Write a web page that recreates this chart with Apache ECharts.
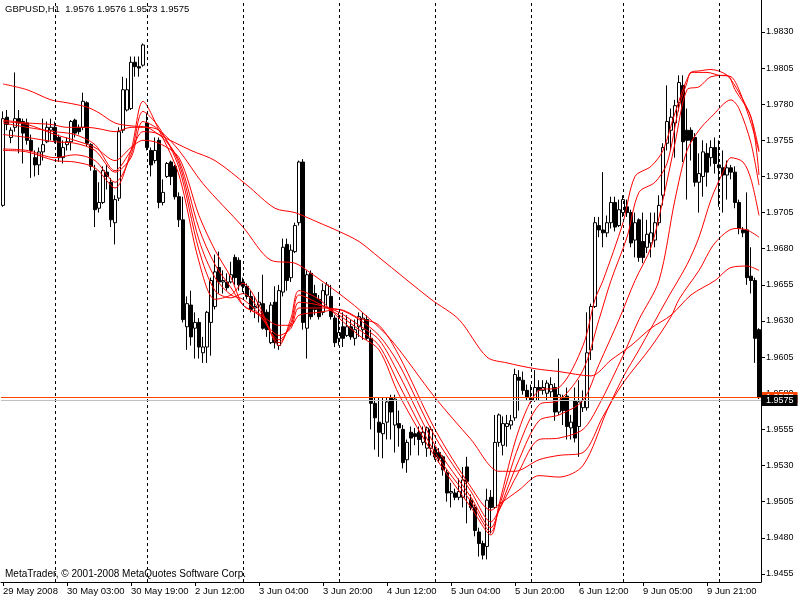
<!DOCTYPE html>
<html><head><meta charset="utf-8">
<script src="https://cdn.jsdelivr.net/npm/echarts@6.0.0/dist/echarts.min.js"></script>
<style>html,body{margin:0;padding:0;background:#fff}#c{width:800px;height:600px}</style>
</head><body><div id="c"></div>
<script>
// trading sessions (day, first hour, last hour) -> hourly categories
const sessions = [['29 May',11,23],['30 May',0,22],['2 Jun',0,23],['3 Jun',0,23],['4 Jun',0,23],['5 Jun',0,23],['6 Jun',0,22],['9 Jun',0,23],['10 Jun',0,10]];
const categories = [];
sessions.forEach(function(s){ for (let h = s[1]; h <= s[2]; h++) categories.push(s[0] + ' ' + String(h).padStart(2,'0') + ':00'); });
const firstLabel = '29 May 2008';

const opens = [1.9710,1.9771,1.9757,1.9764,1.9770,1.9768,1.9767,1.9755,1.9743,1.9738,
1.9747,1.9754,1.9762,1.9764,1.9757,1.9743,1.9752,1.9754,1.9769,1.9764,
1.9764,1.9781,1.9752,1.9734,1.9708,1.9712,1.9733,1.9726,1.9698,1.9715,
1.9762,1.9776,1.9777,1.9809,1.9806,1.9807,1.9767,1.9748,1.9741,1.9755,
1.9712,1.9730,1.9740,1.9737,1.9716,1.9700,1.9626,1.9641,1.9625,1.9629,
1.9608,1.9612,1.9629,1.9640,1.9667,1.9657,1.9657,1.9657,1.9674,1.9672,
1.9657,1.9654,1.9647,1.9639,1.9641,1.9642,1.9636,1.9615,1.9643,1.9613,
1.9650,1.9683,1.9660,1.9678,1.9698,1.9740,1.9625,1.9663,1.9649,1.9645,
1.9636,1.9648,1.9647,1.9632,1.9618,1.9626,1.9620,1.9626,1.9618,1.9626,
1.9624,1.9631,1.9618,1.9573,1.9560,1.9552,1.9560,1.9577,1.9558,1.9559,
1.9555,1.9534,1.9553,1.9552,1.9553,1.9546,1.9542,1.9542,1.9541,1.9539,
1.9536,1.9525,1.9511,1.9511,1.9508,1.9508,1.9529,1.9506,1.9501,1.9484,
1.9476,1.9474,1.9508,1.9501,1.9546,1.9544,1.9557,1.9558,1.9563,1.9591,
1.9589,1.9582,1.9577,1.9575,1.9584,1.9582,1.9580,1.9581,1.9584,1.9567,
1.9577,1.9578,1.9556,1.9575,1.9557,1.9570,1.9570,1.9610,1.9640,1.9696,
1.9693,1.9691,1.9698,1.9712,1.9696,1.9705,1.9709,1.9705,1.9686,1.9700,
1.9685,1.9681,1.9684,1.9686,1.9698,1.9717,1.9753,1.9762,1.9767,1.9781,
1.9793,1.9762,1.9762,1.9757,1.9726,1.9730,1.9746,1.9743,1.9750,1.9738,
1.9736,1.9731,1.9736,1.9733,1.9712,1.9693,1.9693,1.9661,1.9658,1.9624];
const closes = [1.9770,1.9766,1.9762,1.9770,1.9767,1.9760,1.9755,1.9748,1.9738,1.9747,
1.9752,1.9764,1.9764,1.9755,1.9743,1.9750,1.9754,1.9768,1.9760,1.9761,
1.9782,1.9753,1.9737,1.9707,1.9712,1.9734,1.9730,1.9700,1.9714,1.9761,
1.9790,1.9790,1.9809,1.9806,1.9805,1.9821,1.9750,1.9738,1.9748,1.9712,
1.9719,1.9739,1.9730,1.9716,1.9700,1.9631,1.9642,1.9619,1.9629,1.9612,
1.9612,1.9636,1.9658,1.9664,1.9657,1.9658,1.9653,1.9662,1.9660,1.9655,
1.9654,1.9647,1.9638,1.9640,1.9643,1.9625,1.9624,1.9641,1.9615,1.9651,
1.9681,1.9658,1.9679,1.9696,1.9740,1.9629,1.9662,1.9633,1.9638,1.9633,
1.9651,1.9655,1.9633,1.9615,1.9622,1.9618,1.9626,1.9619,1.9624,1.9633,
1.9632,1.9618,1.9573,1.9563,1.9553,1.9559,1.9574,1.9567,1.9576,1.9556,
1.9532,1.9546,1.9549,1.9550,1.9548,1.9553,1.9556,1.9555,1.9536,1.9535,
1.9527,1.9511,1.9512,1.9508,1.9512,1.9520,1.9519,1.9501,1.9485,1.9476,
1.9468,1.9506,1.9501,1.9546,1.9565,1.9559,1.9559,1.9561,1.9593,1.9589,
1.9582,1.9577,1.9575,1.9584,1.9582,1.9584,1.9587,1.9586,1.9567,1.9579,
1.9568,1.9557,1.9560,1.9549,1.9574,1.9575,1.9608,1.9640,1.9698,1.9693,
1.9691,1.9698,1.9712,1.9695,1.9707,1.9714,1.9705,1.9684,1.9698,1.9674,
1.9674,1.9690,1.9691,1.9698,1.9710,1.9750,1.9768,1.9771,1.9779,1.9795,
1.9754,1.9755,1.9755,1.9726,1.9732,1.9747,1.9733,1.9750,1.9739,1.9736,
1.9731,1.9736,1.9733,1.9712,1.9694,1.9691,1.9660,1.9658,1.9618,1.9577];
const highs = [1.9775,1.9776,1.9764,1.9802,1.9776,1.9770,1.9770,1.9759,1.9748,1.9750,
1.9770,1.9768,1.9770,1.9768,1.9759,1.9755,1.9757,1.9769,1.9770,1.9766,
1.9788,1.9782,1.9753,1.9738,1.9726,1.9737,1.9738,1.9729,1.9717,1.9764,
1.9799,1.9798,1.9813,1.9813,1.9813,1.9822,1.9774,1.9750,1.9757,1.9757,
1.9728,1.9740,1.9741,1.9738,1.9719,1.9716,1.9647,1.9651,1.9636,1.9632,
1.9619,1.9637,1.9660,1.9676,1.9678,1.9665,1.9663,1.9671,1.9676,1.9674,
1.9660,1.9656,1.9651,1.9647,1.9650,1.9662,1.9638,1.9643,1.9654,1.9655,
1.9687,1.9687,1.9683,1.9698,1.9741,1.9742,1.9665,1.9665,1.9655,1.9648,
1.9656,1.9657,1.9655,1.9634,1.9636,1.9636,1.9634,1.9631,1.9631,1.9636,
1.9636,1.9634,1.9624,1.9577,1.9577,1.9577,1.9577,1.9579,1.9579,1.9568,
1.9558,1.9548,1.9557,1.9556,1.9557,1.9557,1.9557,1.9557,1.9544,1.9542,
1.9537,1.9527,1.9518,1.9514,1.9521,1.9529,1.9536,1.9510,1.9503,1.9487,
1.9478,1.9514,1.9513,1.9565,1.9566,1.9564,1.9565,1.9565,1.9597,1.9596,
1.9595,1.9586,1.9586,1.9596,1.9589,1.9589,1.9589,1.9591,1.9587,1.9604,
1.9579,1.9584,1.9565,1.9584,1.9589,1.9582,1.9636,1.9642,1.9702,1.9702,
1.9733,1.9703,1.9716,1.9716,1.9714,1.9717,1.9714,1.9707,1.9705,1.9701,
1.9705,1.9700,1.9705,1.9705,1.9717,1.9753,1.9793,1.9777,1.9783,1.9800,
1.9800,1.9777,1.9764,1.9760,1.9746,1.9755,1.9753,1.9755,1.9757,1.9755,
1.9748,1.9741,1.9738,1.9737,1.9714,1.9695,1.9719,1.9681,1.9660,1.9625];
const lows = [1.9709,1.9762,1.9753,1.9761,1.9746,1.9739,1.9752,1.9729,1.9730,1.9731,
1.9741,1.9753,1.9755,1.9753,1.9740,1.9739,1.9748,1.9748,1.9757,1.9759,
1.9762,1.9751,1.9734,1.9695,1.9705,1.9711,1.9721,1.9695,1.9683,1.9713,
1.9760,1.9775,1.9776,1.9799,1.9799,1.9806,1.9748,1.9730,1.9739,1.9708,
1.9710,1.9729,1.9724,1.9714,1.9695,1.9629,1.9610,1.9613,1.9604,1.9604,
1.9601,1.9601,1.9606,1.9638,1.9649,1.9649,1.9651,1.9656,1.9655,1.9651,
1.9650,1.9645,1.9636,1.9632,1.9629,1.9624,1.9619,1.9614,1.9611,1.9610,
1.9647,1.9651,1.9657,1.9677,1.9696,1.9624,1.9604,1.9631,1.9634,1.9631,
1.9634,1.9640,1.9631,1.9612,1.9613,1.9612,1.9619,1.9617,1.9613,1.9619,
1.9617,1.9617,1.9555,1.9541,1.9536,1.9535,1.9548,1.9548,1.9539,1.9543,
1.9528,1.9525,1.9537,1.9544,1.9537,1.9544,1.9536,1.9537,1.9534,1.9532,
1.9523,1.9505,1.9501,1.9506,1.9506,1.9501,1.9490,1.9499,1.9481,1.9467,
1.9465,1.9465,1.9483,1.9500,1.9543,1.9537,1.9543,1.9555,1.9561,1.9568,
1.9579,1.9575,1.9573,1.9574,1.9575,1.9579,1.9575,1.9577,1.9561,1.9565,
1.9558,1.9548,1.9548,1.9546,1.9536,1.9567,1.9568,1.9603,1.9639,1.9688,
1.9681,1.9688,1.9694,1.9692,1.9695,1.9702,1.9702,1.9681,1.9674,1.9671,
1.9670,1.9677,1.9674,1.9681,1.9696,1.9710,1.9748,1.9748,1.9743,1.9775,
1.9740,1.9714,1.9741,1.9723,1.9705,1.9716,1.9723,1.9737,1.9732,1.9709,
1.9705,1.9714,1.9728,1.9708,1.9690,1.9688,1.9655,1.9649,1.9601,1.9576];

// moving-average curves: [bar index, price]
const maSlow = [[0,1.9794],[6,1.9790],[12,1.9783],[16,1.9781],[21,1.9778],[24,1.9774],[28,1.9767],[32,1.9765],[36,1.9764],[39,1.9759],[47,1.9748],[53,1.9741],[61,1.9724],[68,1.9708],[73,1.9705],[79,1.9698],[84,1.9692],[89,1.9685],[94,1.9674],[107,1.9645],[114,1.9631],[121,1.9605],[126,1.9601],[133,1.9597],[139,1.9595],[147,1.9592],[152,1.9603],[157,1.9613],[162,1.9625],[167,1.9634],[172,1.9648],[178,1.9658],[182,1.9667],[186,1.9668],[189,1.9665]];
const maMid = [[0,1.9769],[6,1.9767],[12,1.9766],[16,1.9764],[21,1.9764],[24,1.9763],[28,1.9761],[32,1.9764],[36,1.9764],[39,1.9762],[44,1.9748],[50,1.9725],[60,1.9695],[67,1.9672],[73,1.9670],[77,1.9663],[84,1.9649],[89,1.9638],[97,1.9617],[108,1.9577],[117,1.9548],[124,1.9526],[128,1.9526],[134,1.9534],[139,1.9537],[145,1.9539],[150,1.9564],[155,1.9587],[162,1.9612],[167,1.9633],[169,1.9645],[174,1.9665],[178,1.9684],[183,1.9694],[186,1.9693],[189,1.9688]];
const maFast1 = [[0,1.9748],[6,1.9747],[13,1.9741],[18,1.9740],[23,1.9736],[28,1.9722],[32,1.9748],[35,1.9782],[39,1.9762],[44,1.9731],[49,1.9671],[53,1.9645],[57,1.9648],[60,1.9656],[64,1.9641],[69,1.9613],[72,1.9632],[74,1.9651],[79,1.9645],[84,1.9632],[89,1.9620],[94,1.9610],[99,1.9579],[108,1.9536],[117,1.9501],[122,1.9482],[124,1.9503],[129,1.9555],[134,1.9582],[139,1.9584],[145,1.9613],[148,1.9645],[150,1.9658],[155,1.9698],[158,1.9730],[162,1.9737],[165,1.9748],[168,1.9774],[172,1.9802],[174,1.9803],[177,1.9804],[181,1.9800],[184,1.9788],[187,1.9771],[189,1.9748]];
const maFast2 = [[0,1.9749],[6,1.9748],[13,1.9743],[18,1.9745],[23,1.9741],[28,1.9726],[32,1.9745],[35,1.9775],[39,1.9764],[44,1.9736],[49,1.9679],[53,1.9651],[57,1.9646],[60,1.9649],[64,1.9638],[69,1.9615],[72,1.9629],[74,1.9648],[79,1.9642],[84,1.9634],[89,1.9624],[94,1.9613],[99,1.9586],[108,1.9539],[117,1.9505],[122,1.9484],[124,1.9501],[129,1.9544],[134,1.9572],[139,1.9575],[145,1.9596],[149,1.9631],[152,1.9658],[156,1.9688],[159,1.9719],[163,1.9726],[166,1.9739],[169,1.9778],[171,1.9795],[172,1.9802],[176,1.9802],[179,1.9800],[182,1.9799],[184,1.9790],[187,1.9767],[189,1.9747]];
const maFast3 = [[0,1.9759],[6,1.9757],[13,1.9754],[18,1.9753],[23,1.9748],[28,1.9733],[32,1.9743],[35,1.9768],[39,1.9762],[44,1.9739],[49,1.9686],[53,1.9660],[57,1.9648],[60,1.9645],[64,1.9635],[69,1.9617],[72,1.9627],[74,1.9643],[79,1.9641],[84,1.9636],[89,1.9627],[94,1.9617],[99,1.9593],[108,1.9544],[117,1.9508],[122,1.9487],[124,1.9499],[129,1.9534],[134,1.9561],[139,1.9565],[145,1.9575],[149,1.9600],[154,1.9631],[158,1.9658],[162,1.9681],[165,1.9714],[168,1.9753],[171,1.9790],[174,1.9792],[177,1.9799],[181,1.9800],[183,1.9790],[187,1.9771],[189,1.9731]];
const maFast4 = [[0,1.9767],[6,1.9764],[13,1.9761],[18,1.9759],[23,1.9752],[28,1.9734],[32,1.9748],[35,1.9761],[39,1.9759],[44,1.9741],[49,1.9694],[53,1.9669],[57,1.9653],[60,1.9641],[64,1.9634],[69,1.9620],[72,1.9625],[74,1.9639],[79,1.9639],[84,1.9638],[89,1.9631],[94,1.9620],[99,1.9600],[108,1.9550],[117,1.9512],[122,1.9491],[124,1.9499],[129,1.9526],[134,1.9548],[139,1.9549],[145,1.9555],[149,1.9572],[155,1.9606],[159,1.9631],[164,1.9658],[168,1.9714],[171,1.9748],[174,1.9762],[177,1.9771],[182,1.9783],[184,1.9777],[187,1.9753],[189,1.9724]];
const maFast5 = [[0,1.9768],[6,1.9766],[13,1.9759],[18,1.9755],[23,1.9750],[28,1.9741],[32,1.9750],[35,1.9755],[39,1.9753],[44,1.9743],[49,1.9703],[53,1.9679],[57,1.9660],[60,1.9641],[64,1.9635],[69,1.9627],[72,1.9627],[74,1.9634],[79,1.9636],[84,1.9638],[89,1.9632],[94,1.9627],[99,1.9606],[108,1.9555],[117,1.9515],[122,1.9499],[124,1.9503],[129,1.9513],[134,1.9523],[139,1.9522],[145,1.9530],[151,1.9568],[155,1.9591],[159,1.9610],[166,1.9645],[171,1.9669],[174,1.9688],[177,1.9714],[180,1.9733],[182,1.9743],[185,1.9740],[187,1.9728],[189,1.9703]];

const yTicks = [1.9455,1.9480,1.9505,1.9530,1.9555,1.9580,1.9605,1.9630,1.9655,1.9680,1.9705,1.9730,1.9755,1.9780,1.9805,1.9830];
const askPrice = 1.9577, bidPrice = 1.9575;
const titleText = 'GBPUSD,H1  1.9576 1.9576 1.9573 1.9575';
const copyrightText = 'MetaTrader, \u00a9 2001-2008 MetaQuotes Software Corp.';

const FONT = 'Liberation Sans, Arial, sans-serif';
const sepIdx = categories.map(function(c,i){ return c.endsWith(' 00:00') ? i : -1; }).filter(function(i){ return i >= 0; });
const candles = opens.map(function(o,i){ return [o, closes[i], lows[i], highs[i]]; });

const markData = sepIdx.map(function(i){
  return { xAxis: categories[i], lineStyle: { color: '#000', type: [3,3], width: 1 }, label: { show: false } };
});
markData.push({ yAxis: askPrice, lineStyle: { color: '#ff4500', type: 'solid', width: 1 },
  label: { show: true, position: 'end', distance: 1, formatter: askPrice.toFixed(4), backgroundColor: '#ff4500', color: '#fff', padding: [1,4,1,4], fontSize: 9, fontFamily: FONT } });
markData.push({ yAxis: bidPrice, lineStyle: { color: '#c0c0c0', type: 'solid', width: 1 },
  label: { show: true, position: 'end', distance: 1, formatter: bidPrice.toFixed(4), backgroundColor: '#000', color: '#fff', padding: [1,4,1,4], fontSize: 9, fontFamily: FONT } });

function maSeries(d) {
  return { type: 'line', data: d, symbol: 'none', smooth: 0.3, z: 3, silent: true,
    lineStyle: { color: '#ff0000', width: 1 }, animation: false };
}

const chart = echarts.init(document.getElementById('c'), null, { renderer: 'canvas' });
chart.setOption({
  animation: false,
  backgroundColor: '#fff',
  title: { text: titleText, left: 5, top: 4, padding: 0,
    textStyle: { fontSize: 9.5, fontWeight: 'normal', color: '#000', fontFamily: FONT } },
  graphic: [{ type: 'text', left: 5, top: 569, silent: true,
    style: { text: copyrightText, fill: '#000', font: '10px ' + FONT } }],
  grid: { left: 1, right: 39, top: 0, bottom: 18 },
  xAxis: {
    type: 'category', data: categories, boundaryGap: true,
    axisLine: { lineStyle: { color: '#000', width: 1 } },
    axisTick: { show: true, interval: 15, alignWithLabel: true, length: 4, lineStyle: { color: '#000' } },
    axisLabel: { interval: 15, align: 'left', color: '#000', fontSize: 9.5, margin: 4, fontFamily: FONT,
      formatter: function(v, i){ return i === 0 ? firstLabel : v; } },
    splitLine: { show: false }
  },
  yAxis: {
    type: 'value', position: 'right', min: 1.94494, max: 1.98521,
    axisLine: { show: true, lineStyle: { color: '#000', width: 1 } },
    splitLine: { show: false },
    axisTick: { show: true, length: 4, lineStyle: { color: '#000' }, customValues: yTicks },
    axisLabel: { color: '#000', fontSize: 9, margin: 5, fontFamily: FONT, customValues: yTicks,
      formatter: function(v){ return v.toFixed(4); } }
  },
  series: [
    { type: 'candlestick', data: candles, barWidth: 3, z: 2,
      itemStyle: { color: '#fff', color0: '#000', borderColor: '#000', borderColor0: '#000', borderWidth: 1 },
      markLine: { symbol: ['none','none'], silent: true, animation: false, precision: 4, data: markData } },
    maSeries(maSlow), maSeries(maMid), maSeries(maFast1), maSeries(maFast2),
    maSeries(maFast3), maSeries(maFast4), maSeries(maFast5)
  ]
});
</script>
</body></html>
